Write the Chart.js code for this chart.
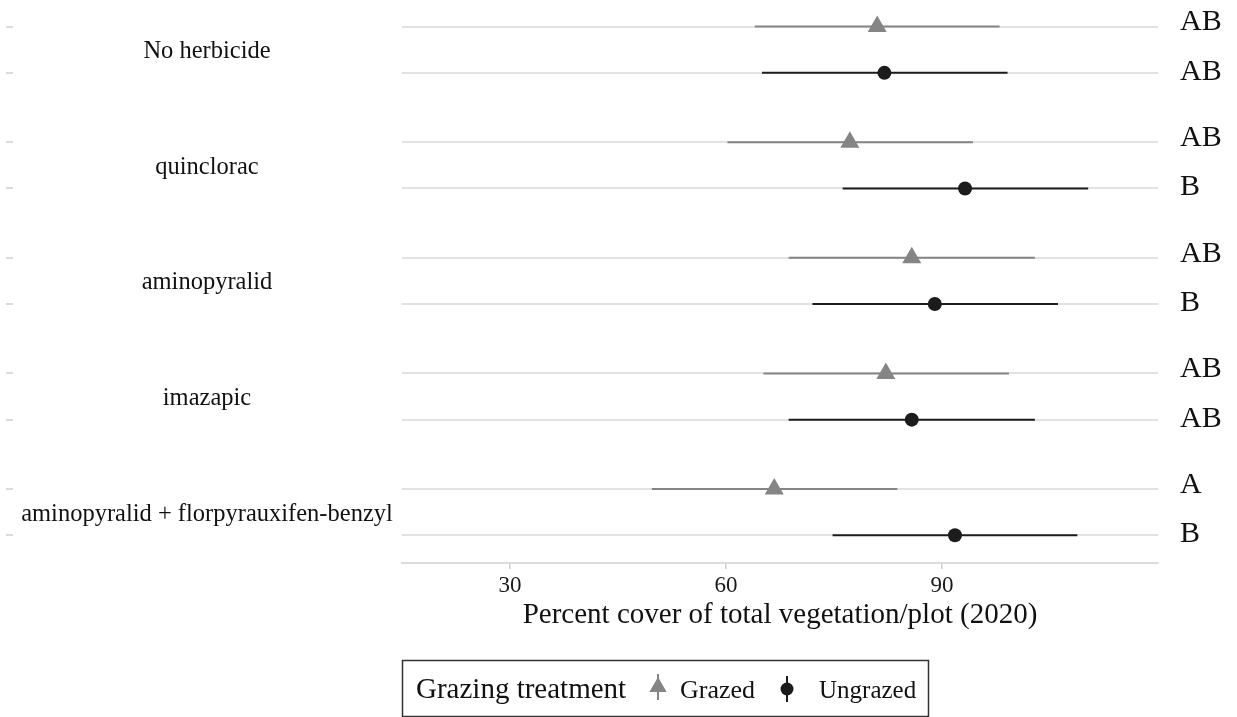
<!DOCTYPE html>
<html>
<head>
<meta charset="utf-8">
<script src="https://cdn.jsdelivr.net/npm/chart.js@4.4.1/dist/chart.umd.min.js"></script>
<style>
  html, body { margin: 0; padding: 0; background: #ffffff; }
  #wrap { width: 1237px; height: 717px; position: relative; }
  canvas { display: block; }
</style>
</head>
<body>
<div id="wrap"><canvas id="chart" width="1237" height="717"></canvas></div>
<script>
// Herbicide treatments (top to bottom)
const treatments = ['No herbicide', 'quinclorac', 'aminopyralid', 'imazapic', 'aminopyralid + florpyrauxifen-benzyl'];

// Grazed plots: mean percent cover and interval bounds
const grazedMean  = [81.0, 77.2, 85.8, 82.2, 66.7];
const grazedLower = [64.0, 60.2, 68.7, 65.2, 49.7];
const grazedUpper = [98.0, 94.3, 102.9, 99.3, 83.8];

// Ungrazed plots: mean percent cover and interval bounds
const ungrazedMean  = [82.0, 93.2, 89.0, 85.8, 91.8];
const ungrazedLower = [65.0, 76.2, 72.0, 68.7, 74.8];
const ungrazedUpper = [99.1, 110.3, 106.1, 102.9, 108.8];

// Compact letter display for each mean
const grazedLetters   = ['AB', 'AB', 'AB', 'AB', 'A'];
const ungrazedLetters = ['AB', 'B', 'B', 'AB', 'B'];

// X axis tick values
const xTicks = [30, 60, 90];

const SERIF = "'Liberation Serif', 'Times New Roman', serif";
const GRAY = '#858585';
const DARK = '#1c1c1c';
const DODGE = 0.2;

const grazedPos   = treatments.map((t, i) => i + 1 - DODGE);
const ungrazedPos = treatments.map((t, i) => i + 1 + DODGE);

// Treatment names, letters, row ticks and the legend
const annotate = {
  id: 'annotate',
  afterDraw(chart) {
    const { ctx, chartArea, scales } = chart;
    const ys = scales.y;
    ctx.save();

    // short ticks at the far left for every row
    ctx.strokeStyle = '#cfcfcf';
    ctx.lineWidth = 1.5;
    [...grazedPos, ...ungrazedPos].forEach(v => {
      const py = Math.round(ys.getPixelForValue(v));
      ctx.beginPath();
      ctx.moveTo(6, py);
      ctx.lineTo(13, py);
      ctx.stroke();
    });

    // treatment names centred between their two rows
    ctx.fillStyle = '#111111';
    ctx.font = '24.5px ' + SERIF;
    ctx.textAlign = 'center';
    ctx.textBaseline = 'middle';
    treatments.forEach((t, i) => {
      ctx.fillText(t, 207, ys.getPixelForValue(i + 1) + 2);
    });

    // letters to the right of the panel
    ctx.font = '30px ' + SERIF;
    ctx.textAlign = 'left';
    const lx = chartArea.right + 22;
    grazedLetters.forEach((l, i) => ctx.fillText(l, lx, ys.getPixelForValue(grazedPos[i]) - 4));
    ungrazedLetters.forEach((l, i) => ctx.fillText(l, lx, ys.getPixelForValue(ungrazedPos[i]) - 1));

    // legend box
    const bx = 402, by = 660, bw = 526, bh = 56;
    ctx.strokeStyle = '#333333';
    ctx.lineWidth = 1.5;
    ctx.strokeRect(bx + 0.5, by + 0.5, bw, bh);

    ctx.fillStyle = '#111111';
    ctx.textBaseline = 'alphabetic';
    ctx.font = '29px ' + SERIF;
    ctx.fillText('Grazing treatment', 416, 698);

    // grazed key: line with triangle
    const tx = 658, ty = 687;
    ctx.strokeStyle = GRAY;
    ctx.lineWidth = 2;
    ctx.beginPath(); ctx.moveTo(tx, 674); ctx.lineTo(tx, 700); ctx.stroke();
    ctx.fillStyle = GRAY;
    const r = 10;
    ctx.beginPath();
    ctx.moveTo(tx, ty - r);
    ctx.lineTo(tx + r * Math.sin(Math.PI * 2 / 3), ty - r * Math.cos(Math.PI * 2 / 3));
    ctx.lineTo(tx - r * Math.sin(Math.PI * 2 / 3), ty - r * Math.cos(Math.PI * 2 / 3));
    ctx.closePath();
    ctx.fill();

    ctx.fillStyle = '#111111';
    ctx.font = '26px ' + SERIF;
    ctx.fillText('Grazed', 680, 698);

    // ungrazed key: line with circle
    const cx = 787, cy = 689;
    ctx.strokeStyle = DARK;
    ctx.beginPath(); ctx.moveTo(cx, 676); ctx.lineTo(cx, 702); ctx.stroke();
    ctx.fillStyle = DARK;
    ctx.beginPath(); ctx.arc(cx, cy, 6.5, 0, Math.PI * 2); ctx.fill();

    ctx.fillStyle = '#111111';
    ctx.font = '25px ' + SERIF;
    ctx.fillText('Ungrazed', 819, 698);

    ctx.restore();
  }
};

new Chart(document.getElementById('chart'), {
  type: 'scatter',
  data: {
    datasets: [
      {
        label: 'Grazed',
        type: 'scatter',
        data: grazedMean.map((m, i) => ({ x: m, y: grazedPos[i] })),
        pointStyle: 'triangle',
        pointRadius: 11,
        pointBackgroundColor: GRAY,
        pointBorderWidth: 0,
        clip: false,
        order: 0
      },
      {
        label: 'Ungrazed',
        type: 'scatter',
        data: ungrazedMean.map((m, i) => ({ x: m, y: ungrazedPos[i] })),
        pointStyle: 'circle',
        pointRadius: 7,
        pointBackgroundColor: DARK,
        pointBorderWidth: 0,
        clip: false,
        order: 0
      },
      {
        label: 'Grazed interval',
        type: 'bar',
        indexAxis: 'y',
        grouped: false,
        maxBarThickness: 2,
        data: grazedLower.map((lo, i) => ({ x: [lo, grazedUpper[i]], y: grazedPos[i] })),
        backgroundColor: GRAY,
        borderWidth: 0,
        order: 1
      },
      {
        label: 'Ungrazed interval',
        type: 'bar',
        indexAxis: 'y',
        grouped: false,
        maxBarThickness: 2,
        data: ungrazedLower.map((lo, i) => ({ x: [lo, ungrazedUpper[i]], y: ungrazedPos[i] })),
        backgroundColor: DARK,
        borderWidth: 0,
        order: 1
      }
    ]
  },
  options: {
    responsive: false,
    animation: false,
    devicePixelRatio: 1,
    layout: { autoPadding: false, padding: { left: 0, right: 79, top: 0, bottom: 0 } },
    plugins: {
      legend: { display: false },
      tooltip: { enabled: false }
    },
    scales: {
      x: {
        type: 'linear',
        min: 15,
        max: 120,
        offset: false,
        afterBuildTicks: s => { s.ticks = xTicks.map(v => ({ value: v })); },
        afterFit: s => { s.height = 154; },
        grid: {
          offset: false,
          drawOnChartArea: false,
          drawTicks: true,
          tickLength: 6,
          color: '#d0d0d0',
          lineWidth: 1.5
        },
        border: { display: true, color: '#dcdcdc', width: 2 },
        ticks: {
          font: { family: SERIF, size: 23 },
          color: '#1a1a1a',
          padding: 3,
          maxRotation: 0
        },
        title: {
          display: true,
          text: 'Percent cover of total vegetation/plot (2020)',
          font: { family: SERIF, size: 29 },
          color: '#111111',
          padding: { top: 0, bottom: 84 }
        }
      },
      y: {
        type: 'linear',
        reverse: true,
        min: 0.57,
        max: 5.44,
        offset: false,
        afterBuildTicks: s => {
          s.ticks = [...grazedPos, ...ungrazedPos].sort((a, b) => a - b).map(v => ({ value: v }));
        },
        afterFit: s => { s.width = 402; },
        grid: { offset: false, color: '#e2e2e2', lineWidth: 2, drawTicks: false },
        border: { display: false },
        ticks: { display: false }
      }
    }
  },
  plugins: [annotate]
});
</script>
</body>
</html>
